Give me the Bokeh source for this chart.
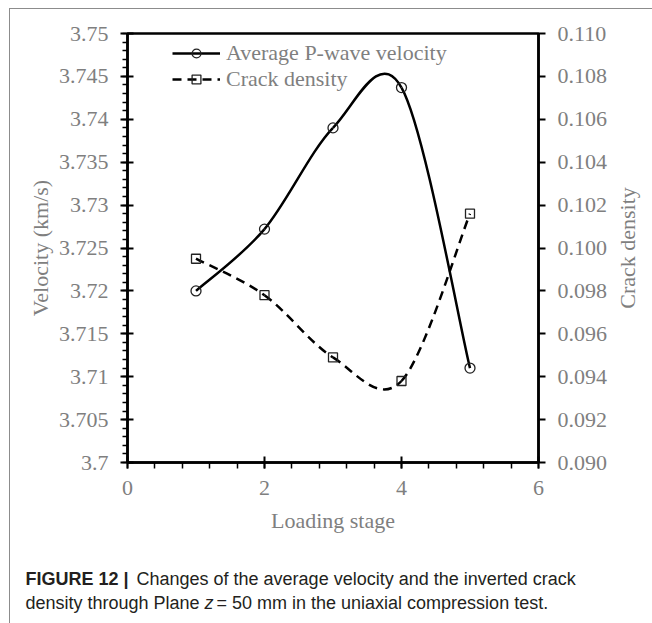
import numpy as np
from bokeh.plotting import figure
from bokeh.layouts import column, row
from bokeh.models import (Range1d, LinearAxis, SingleIntervalTicker, PrintfTickFormatter,
                          CustomJSTickFormatter, Legend, LegendItem)
from bokeh.core.properties import value
from bokeh.embed import file_html
from bokeh.resources import INLINE

# ---- data ----
stage = [1, 2, 3, 4, 5]
velocity = [3.7200, 3.7272, 3.7390, 3.7437, 3.7110]
crack_density = [0.0995, 0.0978, 0.0949, 0.0938, 0.1016]
vel_label = "Average P-wave velocity"
cd_label = "Crack density"
x_title = "Loading stage"
y_title = "Velocity (km/s)"
y2_title = "Crack density"
caption_bold = "FIGURE 12 |"
caption_1 = "Changes of the average velocity and the inverted crack"
caption_2a = "density through Plane"
caption_2z = "z"
caption_2b = "= 50 mm in the uniaxial compression test."

GRAY = "#7f7f7f"
RULE = "#8c8c8c"
SERIF = "Liberation Serif"
SANS = "Liberation Sans"
FS = "22px"

W, H = 652, 623
OX, OY = 10, 9                      # page offset of content (inside rules)
FL, FT, FR, FB = 127, 33, 538, 462  # chart frame edges on page
CH = 541                            # chart row height
TW = 40                             # right-title strip width
CAP_H = H - OY - CH                 # caption height


def no_align(fig):
    try:
        fig.frame_align = False
    except Exception:
        pass


def smooth_controls(xs, ys):
    P = np.column_stack([xs, ys]).astype(float)
    n = len(P)
    ext = np.vstack([P[0], P, P[-1]])
    c0 = P[:-1] + (ext[2:n + 1] - ext[0:n - 1]) / 6.0
    c1 = P[1:] - (ext[3:n + 2] - ext[1:n]) / 6.0
    return P[:-1], P[1:], c0, c1


CW = W - OX - TW
p = figure(width=CW, height=CH, x_range=Range1d(0, 6), y_range=Range1d(3.70, 3.75),
           output_backend="svg", toolbar_location=None, title=None,
           min_border_left=FL - OX, min_border_right=OX + CW - FR,
           min_border_top=FT - OY, min_border_bottom=OY + CH - FB)
no_align(p)
p.extra_y_ranges = {"cd": Range1d(0.090, 0.110)}
p.grid.visible = False
p.outline_line_color = "black"
p.outline_line_width = 2.5
p.background_fill_color = "white"
p.border_fill_color = "white"

xa = p.xaxis[0]
xa.ticker = SingleIntervalTicker(interval=2, num_minor_ticks=5)
xa.axis_label = x_title
ya = p.yaxis[0]
ya.ticker = SingleIntervalTicker(interval=0.005, num_minor_ticks=5)
ya.formatter = CustomJSTickFormatter(code="return String(parseFloat(tick.toFixed(3)));")
ya.axis_label = y_title
ra = LinearAxis(y_range_name="cd", ticker=SingleIntervalTicker(interval=0.002, num_minor_ticks=0),
                formatter=PrintfTickFormatter(format="%.3f"))
p.add_layout(ra, "right")

for ax in (xa, ya, ra):
    ax.axis_line_color = "black"
    ax.axis_line_width = 2.5
    ax.major_tick_line_color = "black"
    ax.major_tick_line_width = 2
    ax.minor_tick_line_color = "black"
    ax.minor_tick_line_width = 1.5
    ax.major_label_text_font = SERIF
    ax.major_label_text_font_size = FS
    ax.major_label_text_color = GRAY
    ax.axis_label_text_font = SERIF
    ax.axis_label_text_font_size = FS
    ax.axis_label_text_font_style = "normal"
    ax.axis_label_text_color = GRAY

xa.major_tick_in = 6
xa.major_tick_out = 6
xa.minor_tick_in = 0
xa.minor_tick_out = 6
xa.major_label_standoff = 12
xa.axis_label_standoff = 10

ya.major_tick_in = 6
ya.major_tick_out = 7
ya.minor_tick_in = 0
ya.minor_tick_out = 5
ya.major_label_standoff = 12
ya.axis_label_standoff = 3

ra.major_tick_in = 0
ra.major_tick_out = 7
ra.minor_tick_line_color = None
ra.major_label_standoff = 12

a, b, c0, c1 = smooth_controls(stage, velocity)
vel_curve = p.bezier(x0=a[:, 0], y0=a[:, 1], x1=b[:, 0], y1=b[:, 1],
                     cx0=c0[:, 0], cy0=c0[:, 1], cx1=c1[:, 0], cy1=c1[:, 1],
                     line_color="black", line_width=2.5)
a, b, c0, c1 = smooth_controls(stage, crack_density)
cd_curve = p.bezier(x0=a[:, 0], y0=a[:, 1], x1=b[:, 0], y1=b[:, 1],
                    cx0=c0[:, 0], cy0=c0[:, 1], cx1=c1[:, 0], cy1=c1[:, 1],
                    line_color="black", line_width=2.5, line_dash="9 6", y_range_name="cd")
vel_pts = p.scatter(stage, velocity, marker="circle", size=10, fill_color=None,
                    line_color="#222222", line_width=1.3)
cd_pts = p.scatter(stage, crack_density, marker="square", size=9, fill_color=None,
                   line_color="#222222", line_width=1.3, y_range_name="cd")

legend = Legend(items=[LegendItem(label=vel_label, renderers=[vel_curve, vel_pts]),
                       LegendItem(label=cd_label, renderers=[cd_curve, cd_pts])],
                location=(45, 370), padding=0, margin=0, spacing=0,
                glyph_width=48, glyph_height=22, label_height=22, label_standoff=6,
                label_text_font=SERIF, label_text_font_size=FS, label_text_color=GRAY,
                border_line_color=None, background_fill_alpha=0)
p.add_layout(legend)

# right title strip (page coordinates in px)
tf = figure(width=TW, height=CH, x_range=Range1d(OX + CW, W), y_range=Range1d(OY + CH, OY),
            output_backend="svg", toolbar_location=None, title=None,
            x_axis_type=None, y_axis_type=None, min_border=0)
no_align(tf)
tf.grid.visible = False
tf.outline_line_color = None
tf.background_fill_color = "white"
tf.border_fill_color = "white"
tf.text(x=[627], y=[(FT + FB) / 2], text=[y2_title], angle=np.pi / 2,
        text_align="center", text_baseline="middle",
        text_font=value(SERIF), text_font_size=FS, text_color=GRAY)

# caption (page coordinates in px)
cf = figure(width=W - OX, height=CAP_H, x_range=Range1d(OX, W), y_range=Range1d(H, OY + CH),
            output_backend="svg", toolbar_location=None, title=None,
            x_axis_type=None, y_axis_type=None, min_border=0)
no_align(cf)
cf.grid.visible = False
cf.outline_line_color = None
cf.background_fill_color = "white"
cf.border_fill_color = "white"
cap = dict(text_font=value(SANS), text_font_size="18px", text_color="#231f20",
           text_baseline="alphabetic", text_align="left")
L1, L2 = 578, 602
cf.text(x=[25], y=[L1], text=[caption_bold], text_font_style="bold", **cap)
cf.text(x=[136], y=[L1], text=[caption_1], **cap)
cf.text(x=[25], y=[L2], text=[caption_2a], **cap)
cf.text(x=[204], y=[L2], text=[caption_2z], text_font_style="italic", **cap)
cf.text(x=[216], y=[L2], text=[caption_2b], **cap)

layout = column(row(p, tf, spacing=0), cf, spacing=0, margin=(OY - 1, 0, 0, OX - 1),
                styles={"border-top": f"1px solid {RULE}", "border-left": f"1px solid {RULE}"})

open("out.html", "w").write(file_html(layout, INLINE))
